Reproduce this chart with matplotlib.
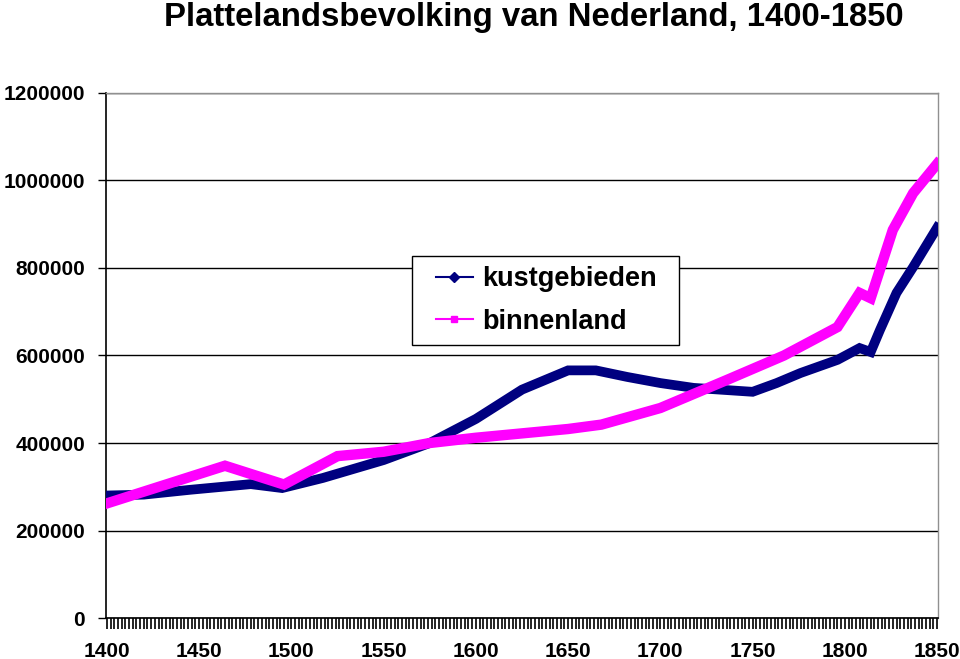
import matplotlib
matplotlib.use("Agg")
import matplotlib.pyplot as plt
from matplotlib.lines import Line2D
from matplotlib.patches import Rectangle
from matplotlib.ticker import MultipleLocator, FixedLocator
from matplotlib import font_manager

# ---- data (benchmark readings from the chart) ----
kust_years = [1400, 1420, 1445, 1478, 1495, 1517, 1550, 1575, 1600, 1625,
              1650, 1665, 1682, 1700, 1718, 1750, 1763, 1776, 1796, 1808,
              1814, 1819, 1828, 1837, 1850]
kust_values = [280000, 282000, 293000, 306000, 297000, 320000, 361000, 400000,
               455000, 522000, 566000, 566000, 551000, 537000, 526000, 517000,
               537000, 560000, 590000, 617000, 608000, 658000, 743000, 802000,
               892000]

binnen_years = [1400, 1464, 1496, 1525, 1550, 1575, 1600, 1625, 1650, 1668,
                1700, 1736, 1767, 1796, 1808, 1814, 1826, 1837, 1850]
binnen_values = [262000, 348000, 305000, 370000, 380000, 400000, 412000,
                 422000, 432000, 442000, 480000, 544000, 600000, 665000,
                 743000, 731000, 887000, 971000, 1038000]

series_names = ["kustgebieden", "binnenland"]
title_text = "Plattelandsbevolking van Nederland, 1400-1850"
x_labels = [1400, 1450, 1500, 1550, 1600, 1650, 1700, 1750, 1800, 1850]
y_ticks = [0, 200000, 400000, 600000, 800000, 1000000, 1200000]

NAVY = "#000080"
MAGENTA = "#FF00FF"

avail = {f.name for f in font_manager.fontManager.ttflist}
narrow = "Liberation Sans Narrow" in avail
title_font = "Liberation Sans Narrow" if narrow else "Liberation Sans"
title_size = 29 if narrow else 23.7
plt.rcParams["font.family"] = ["Liberation Sans", "DejaVu Sans"]

W, H = 960, 659
fig = plt.figure(figsize=(W / 100, H / 100), dpi=100)
ax = fig.add_axes([0.1104, 0.0622, 0.8667, 0.7967])

ax.plot(kust_years, kust_values, color=NAVY, linewidth=7.0,
        solid_joinstyle="miter", zorder=3)
ax.plot(binnen_years, binnen_values, color=MAGENTA, linewidth=7.5,
        solid_joinstyle="miter", zorder=4)

ax.set_xlim(1399.5, 1850.5)
ax.set_ylim(0, 1200000)

ax.yaxis.set_major_locator(FixedLocator(y_ticks))
ax.set_yticklabels([str(v) for v in y_ticks], fontsize=15, fontweight="bold")
ax.grid(axis="y", color="black", linewidth=1.0, zorder=1)
ax.tick_params(axis="y", direction="out", length=6, width=1, pad=9, colors="black")

ax.xaxis.set_major_locator(FixedLocator(x_labels))
ax.xaxis.set_minor_locator(MultipleLocator(2))
ax.set_xticklabels([str(v) for v in x_labels], fontsize=15, fontweight="bold")
ax.tick_params(axis="x", which="both", direction="out", length=8, width=1.2, pad=9)

for s in ["left", "bottom"]:
    ax.spines[s].set_color("black")
    ax.spines[s].set_linewidth(1.2)
for s in ["top", "right"]:
    ax.spines[s].set_color("#909090")
    ax.spines[s].set_linewidth(1.0)

fig.text(0.556, 0.997, title_text, ha="center", va="top",
         fontsize=title_size, fontweight="bold", family=title_font)

# legend frame box (Excel style) drawn in figure pixels
lx0, ly0, lx1, ly1 = 412, 256, 679, 345
frame = Rectangle((lx0 / W, 1 - ly1 / H), (lx1 - lx0) / W, (ly1 - ly0) / H,
                  transform=fig.transFigure, facecolor="white",
                  edgecolor="black", linewidth=1.0, zorder=9)
fig.add_artist(frame)

handles = [
    Line2D([], [], color=NAVY, linewidth=1.5, marker="D", markersize=5),
    Line2D([], [], color=MAGENTA, linewidth=1.5, marker="s", markersize=5),
]
leg = fig.legend(handles, series_names, loc="center",
                 bbox_to_anchor=((lx0 + lx1) / 2 / W + 0.001, 1 - (ly0 + ly1) / 2 / H),
                 bbox_transform=fig.transFigure,
                 prop={"weight": "bold", "size": 19.5}, frameon=False,
                 borderpad=0.0, handlelength=1.35, handletextpad=0.36,
                 labelspacing=0.6, borderaxespad=0)
leg.set_zorder(10)

fig.savefig("out.png", dpi=100)
